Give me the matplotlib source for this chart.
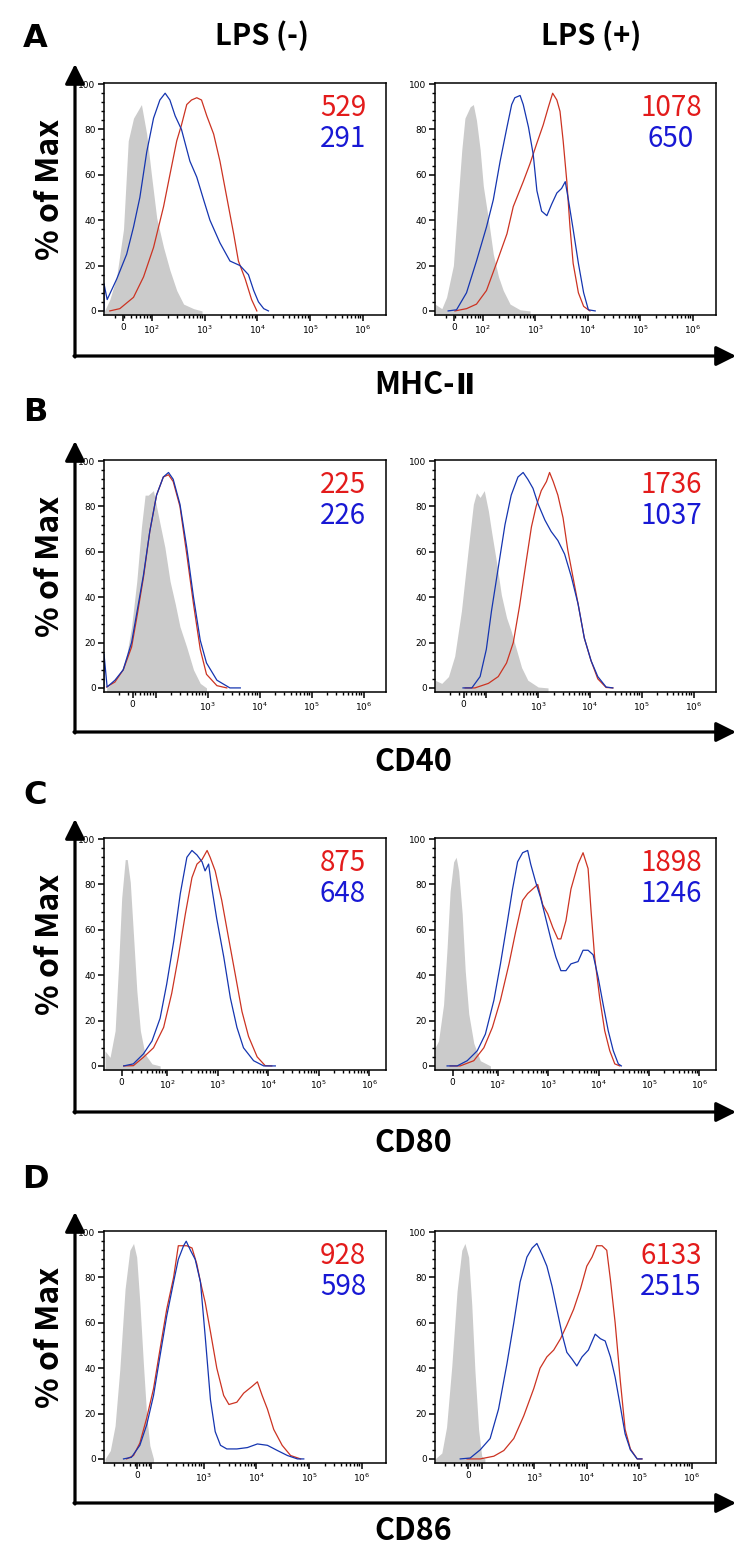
import matplotlib
matplotlib.use('Agg')
import matplotlib.pyplot as plt
from matplotlib.ticker import FixedLocator, MultipleLocator
import numpy as np

# ---- data: x in display decades (logicle axis), y in % of max ----
# row A : MHC-II
a_neg_gray_u = [1.10, 1.20, 1.33, 1.46, 1.55, 1.65, 1.80, 1.90, 1.99, 2.09, 2.22, 2.34, 2.47, 2.60, 2.79, 2.95]
a_neg_gray_y = [0, 5, 15, 36, 75, 85, 91, 78, 60, 41, 28, 18, 9, 3, 1, 0]
a_neg_red_u = [1.20, 1.39, 1.65, 1.84, 2.03, 2.22, 2.34, 2.47, 2.56, 2.66, 2.75, 2.85, 2.94, 3.04, 3.17, 3.29, 3.42, 3.55, 3.64, 3.77, 3.89, 3.99]
a_neg_red_y = [0, 1, 6, 15, 28, 46, 60, 75, 82, 91, 93, 94, 93, 86, 78, 66, 50, 34, 22, 14, 5, 0]
a_neg_blue_u = [1.09, 1.09, 1.15, 1.33, 1.52, 1.65, 1.77, 1.90, 2.03, 2.15, 2.25, 2.34, 2.44, 2.56, 2.72, 2.85, 2.98, 3.10, 3.29, 3.48, 3.67, 3.83, 3.93, 4.02, 4.12, 4.21]
a_neg_blue_y = [0, 12, 5, 14, 25, 37, 50, 70, 85, 93, 96, 93, 86, 80, 66, 59, 49, 40, 30, 22, 20, 16, 9, 4, 1, 0]

a_pos_gray_u = [1.09, 1.22, 1.31, 1.44, 1.53, 1.60, 1.66, 1.76, 1.82, 1.88, 1.95, 2.01, 2.11, 2.20, 2.30, 2.39, 2.52, 2.71, 2.90]
a_pos_gray_y = [3, 1, 6, 20, 49, 71, 85, 90, 91, 84, 71, 55, 40, 25, 15, 9, 3, 0.5, 0]
a_pos_red_u = [1.47, 1.69, 1.88, 2.07, 2.26, 2.46, 2.58, 2.77, 2.90, 3.03, 3.15, 3.25, 3.33, 3.41, 3.47, 3.53, 3.60, 3.66, 3.72, 3.82, 3.92, 4.04]
a_pos_red_y = [0, 1, 3, 9, 21, 34, 46, 57, 65, 74, 82, 90, 96, 93, 88, 75, 57, 37, 21, 8, 2, 0]
a_pos_blue_u = [1.34, 1.50, 1.69, 1.88, 2.07, 2.20, 2.33, 2.46, 2.55, 2.61, 2.71, 2.77, 2.87, 2.96, 3.03, 3.12, 3.22, 3.31, 3.41, 3.50, 3.57, 3.63, 3.72, 3.82, 3.92, 4.01, 4.14]
a_pos_blue_y = [0, 0.5, 8, 22, 37, 49, 66, 81, 91, 94, 95, 91, 81, 69, 53, 44, 42, 47, 52, 54, 57, 49, 36, 21, 8, 0.5, 0]

# row B : CD40
b_neg_gray_u = [1.06, 1.22, 1.35, 1.45, 1.54, 1.64, 1.73, 1.80, 1.86, 1.96, 2.02, 2.09, 2.18, 2.28, 2.38, 2.47, 2.60, 2.73, 2.86, 2.98]
b_neg_gray_y = [0, 3, 8, 15, 27, 47, 71, 85, 85, 87, 80, 72, 62, 47, 37, 27, 18, 8, 2, 0]
b_neg_red_u = [1.06, 1.22, 1.38, 1.54, 1.64, 1.77, 1.89, 2.02, 2.15, 2.25, 2.34, 2.47, 2.60, 2.73, 2.86, 2.98, 3.18, 3.37]
b_neg_red_y = [0.4, 2.6, 8, 18, 31, 49, 69, 85, 93, 94, 91, 80, 59, 37, 17, 6, 1, 0]
b_neg_blue_u = [1.01, 1.01, 1.07, 1.22, 1.38, 1.54, 1.64, 1.77, 1.89, 2.02, 2.15, 2.25, 2.34, 2.47, 2.60, 2.73, 2.86, 2.98, 3.18, 3.43, 3.63]
b_neg_blue_y = [0, 15, 0.4, 3.4, 8, 20, 33, 50, 69, 85, 93, 95, 92, 81, 62, 40, 21, 11, 3.4, 0, 0]

b_pos_gray_u = [1.01, 1.14, 1.27, 1.39, 1.52, 1.65, 1.75, 1.81, 1.88, 1.96, 2.04, 2.10, 2.20, 2.29, 2.39, 2.48, 2.58, 2.68, 2.80, 3.00, 3.19]
b_pos_gray_y = [3.4, 2, 5, 14, 34, 61, 81, 86, 84, 87, 78, 69, 55, 41, 31, 25, 17, 9, 3.4, 0.4, 0]
b_pos_red_u = [1.59, 1.78, 2.04, 2.23, 2.39, 2.52, 2.64, 2.77, 2.87, 2.96, 3.06, 3.16, 3.22, 3.29, 3.38, 3.48, 3.57, 3.67, 3.77, 3.89, 4.02, 4.15, 4.31, 4.44]
b_pos_red_y = [0, 0, 2, 5, 11, 20, 36, 56, 71, 80, 87, 91, 95, 91, 85, 75, 61, 49, 37, 22, 12, 4, 0.2, 0]
b_pos_blue_u = [1.55, 1.72, 1.88, 2.00, 2.10, 2.23, 2.36, 2.48, 2.61, 2.71, 2.80, 2.90, 3.00, 3.13, 3.25, 3.38, 3.51, 3.64, 3.77, 3.89, 4.02, 4.15, 4.31, 4.44]
b_pos_blue_y = [0, 0, 5, 17, 34, 53, 72, 85, 93, 95, 92, 88, 81, 74, 69, 65, 59, 49, 37, 22, 12, 5, 0.4, 0]

# row C : CD80
c_neg_gray_u = [0.77, 0.87, 0.97, 1.04, 1.10, 1.17, 1.21, 1.27, 1.33, 1.40, 1.47, 1.56, 1.70, 1.86]
c_neg_gray_y = [6.6, 3.8, 15.5, 45, 74, 91, 91, 81, 59, 33, 15.5, 5.3, 0.9, 0]
c_neg_red_u = [1.14, 1.33, 1.53, 1.73, 1.93, 2.09, 2.22, 2.36, 2.49, 2.59, 2.69, 2.79, 2.85, 2.95, 3.08, 3.21, 3.35, 3.48, 3.61, 3.78, 3.94, 4.07]
c_neg_red_y = [0, 0.1, 3.8, 8, 17, 32, 48, 67, 83, 89, 91, 95, 92, 86, 73, 57, 40, 24, 13, 4, 0.1, 0]
c_neg_blue_u = [1.14, 1.33, 1.53, 1.70, 1.86, 1.99, 2.13, 2.26, 2.39, 2.49, 2.59, 2.69, 2.75, 2.82, 2.88, 2.98, 3.12, 3.25, 3.38, 3.51, 3.71, 3.91, 4.14]
c_neg_blue_y = [0, 0.9, 5.3, 11, 21, 36, 55, 76, 92, 95, 93, 90, 86, 89, 79, 65, 48, 30, 17, 8, 2.3, 0, 0]

c_pos_gray_u = [0.75, 0.82, 0.92, 0.99, 1.05, 1.12, 1.17, 1.22, 1.29, 1.35, 1.42, 1.52, 1.65, 1.85]
c_pos_gray_y = [8, 11, 27, 52, 77, 90, 92, 86, 67, 42, 23, 10, 2.3, 0]
c_pos_red_u = [1.05, 1.25, 1.52, 1.72, 1.89, 2.05, 2.22, 2.35, 2.49, 2.59, 2.69, 2.79, 2.89, 2.99, 3.09, 3.19, 3.25, 3.35, 3.45, 3.59, 3.69, 3.79, 3.85, 3.92, 4.02, 4.12, 4.22, 4.32, 4.42]
c_pos_red_y = [0, 0, 2.3, 8, 17, 29, 45, 59, 73, 76, 78, 80, 71, 67, 61, 56, 56, 64, 78, 89, 94, 87, 68, 48, 30, 15.5, 6.7, 0.9, 0]
c_pos_blue_u = [0.99, 1.19, 1.39, 1.59, 1.75, 1.92, 2.05, 2.19, 2.29, 2.39, 2.49, 2.59, 2.65, 2.75, 2.85, 2.95, 3.05, 3.15, 3.25, 3.35, 3.45, 3.59, 3.69, 3.79, 3.89, 3.99, 4.09, 4.19, 4.29, 4.39, 4.45]
c_pos_blue_y = [0, 0, 2.3, 6.7, 14, 29, 45, 64, 78, 90, 94, 95, 89, 81, 74, 65, 56, 48, 42, 42, 45, 46, 51, 51, 49, 39, 27, 15.5, 6.7, 0.9, 0]

# row D : CD86
d_neg_gray_u = [1.13, 1.23, 1.32, 1.41, 1.51, 1.60, 1.67, 1.73, 1.79, 1.86, 1.92, 1.98, 2.05]
d_neg_gray_y = [0, 3.7, 14.6, 39.5, 75, 92, 95, 89, 69, 41, 19, 5.9, 0]
d_neg_red_u = [1.54, 1.67, 1.79, 1.92, 2.05, 2.17, 2.30, 2.43, 2.52, 2.59, 2.68, 2.78, 2.87, 2.94, 3.03, 3.13, 3.25, 3.38, 3.48, 3.63, 3.76, 3.92, 4.02, 4.11, 4.21, 4.33, 4.49, 4.65, 4.84]
d_neg_red_y = [0, 1.5, 7, 18, 31, 48, 66, 80, 94, 94, 94, 93, 86, 78, 69, 56, 40, 28, 24, 25, 29, 32, 34, 28, 22, 13, 6, 1.5, 0]
d_neg_blue_u = [1.48, 1.63, 1.79, 1.92, 2.05, 2.17, 2.30, 2.43, 2.52, 2.62, 2.67, 2.75, 2.84, 2.94, 3.03, 3.13, 3.22, 3.32, 3.44, 3.63, 3.83, 4.02, 4.21, 4.40, 4.59, 4.78, 4.90]
d_neg_blue_y = [0, 0.7, 6, 15, 28, 45, 63, 78, 88, 94, 96, 92, 88, 78, 54, 26, 12, 6, 4.4, 4.4, 5, 6.6, 6, 3.7, 1.5, 0, 0]

d_pos_gray_u = [1.11, 1.24, 1.33, 1.43, 1.53, 1.62, 1.68, 1.75, 1.81, 1.87, 1.94, 2.00, 2.06]
d_pos_gray_y = [0, 2.6, 14, 41, 74, 92, 95, 89, 68, 39, 13, 1.2, 0]
d_pos_red_u = [1.72, 1.97, 2.23, 2.42, 2.61, 2.80, 2.99, 3.11, 3.24, 3.37, 3.50, 3.62, 3.75, 3.88, 4.00, 4.10, 4.19, 4.29, 4.38, 4.45, 4.54, 4.64, 4.73, 4.83, 4.96, 5.05]
d_pos_red_y = [0, 0, 1.2, 3.7, 9, 19, 31, 40, 45, 48, 53, 59, 66, 75, 85, 89, 94, 94, 92, 79, 60, 34, 13, 4.4, 0, 0]
d_pos_blue_u = [1.59, 1.78, 1.97, 2.16, 2.32, 2.48, 2.61, 2.73, 2.86, 2.96, 3.05, 3.15, 3.24, 3.34, 3.43, 3.53, 3.62, 3.72, 3.81, 3.91, 4.03, 4.16, 4.26, 4.35, 4.45, 4.54, 4.64, 4.73, 4.83, 4.96, 5.05]
d_pos_blue_y = [0, 0.4, 4, 9, 22, 42, 60, 78, 89, 93, 95, 90, 85, 76, 66, 55, 47, 44, 41, 45, 48, 55, 53, 52, 45, 36, 23, 11, 4, 0, 0]

# numbers printed in each panel (red / blue)
mfi_red = [['529', '1078'], ['225', '1736'], ['875', '1898'], ['928', '6133']]
mfi_blue = [['291', '650'], ['226', '1037'], ['648', '1246'], ['598', '2515']]

row_letters = ['A', 'B', 'C', 'D']
markers = ['MHC-Ⅱ', 'CD40', 'CD80', 'CD86']
col_titles = ['LPS (-)', 'LPS (+)']

# logicle display per row: left, right, position of 0, labelled decades
row_xlim = [(1.09, 6.44), (1.01, 6.43), (0.75, 6.33), (1.11, 6.46)]
row_zero = [1.45, 1.56, 1.10, 1.74]
row_decades = [[2, 3, 4, 5, 6], [3, 4, 5, 6], [2, 3, 4, 5, 6], [3, 4, 5, 6]]

panels = [
    [(a_neg_gray_u, a_neg_gray_y, a_neg_red_u, a_neg_red_y, a_neg_blue_u, a_neg_blue_y),
     (a_pos_gray_u, a_pos_gray_y, a_pos_red_u, a_pos_red_y, a_pos_blue_u, a_pos_blue_y)],
    [(b_neg_gray_u, b_neg_gray_y, b_neg_red_u, b_neg_red_y, b_neg_blue_u, b_neg_blue_y),
     (b_pos_gray_u, b_pos_gray_y, b_pos_red_u, b_pos_red_y, b_pos_blue_u, b_pos_blue_y)],
    [(c_neg_gray_u, c_neg_gray_y, c_neg_red_u, c_neg_red_y, c_neg_blue_u, c_neg_blue_y),
     (c_pos_gray_u, c_pos_gray_y, c_pos_red_u, c_pos_red_y, c_pos_blue_u, c_pos_blue_y)],
    [(d_neg_gray_u, d_neg_gray_y, d_neg_red_u, d_neg_red_y, d_neg_blue_u, d_neg_blue_y),
     (d_pos_gray_u, d_pos_gray_y, d_pos_red_u, d_pos_red_y, d_pos_blue_u, d_pos_blue_y)],
]

# ---- layout (pixels) ----
W, H = 752, 1557
panel_x = [(104, 386), (435, 716)]
panel_top = [83, 460, 838, 1231]
panel_h = 232
arrow_y = [356, 732, 1112, 1503]
letter_y = [38, 412, 795, 1180]
marker_y = [385, 762, 1143, 1531]
num_cx = [343, 671]

BIG = ['Noto Sans CJK KR', 'DejaVu Sans']
RED_LINE, BLUE_LINE, GRAY = '#cc3322', '#1535b0', '#cbcbcb'
RED_TXT, BLUE_TXT = '#e31b1b', '#1818d4'

fig = plt.figure(figsize=(W / 100, H / 100), dpi=100)
ov = fig.add_axes([0, 0, 1, 1])
ov.set_xlim(0, W)
ov.set_ylim(H, 0)
ov.axis('off')
ov.set_zorder(10)

ov.text(262, 36, col_titles[0], family=BIG, weight='bold', fontsize=21, ha='center', va='center')
ov.text(591, 36, col_titles[1], family=BIG, weight='bold', fontsize=21, ha='center', va='center')

arrow_props = dict(arrowstyle='-|>,head_length=0.5,head_width=0.25', lw=2.3,
                   color='black', mutation_scale=24, shrinkA=0, shrinkB=0)

for r in range(4):
    top = panel_top[r]
    ov.annotate('', xy=(736, arrow_y[r]), xytext=(74, arrow_y[r]), arrowprops=arrow_props)
    ov.annotate('', xy=(75, top - 19), xytext=(75, arrow_y[r] + 1), arrowprops=arrow_props)
    ov.text(35, letter_y[r], row_letters[r], family='DejaVu Sans', weight='bold', fontsize=23,
            ha='center', va='center')
    ov.text(50, top + 106, '% of Max', family=BIG, weight='bold', fontsize=23,
            rotation=90, ha='center', va='center')
    if markers[r].endswith('Ⅱ'):
        # the CJK roman numeral is full width; draw it in a proportional font right after
        t = ov.text(374, marker_y[r], markers[r][:-1], family=BIG, weight='bold', fontsize=22,
                    ha='left', va='center')
        fig.canvas.draw()
        bb = t.get_window_extent()
        x_end = ov.transData.inverted().transform((bb.x1, bb.y0))[0]
        ov.text(x_end + 1, marker_y[r] + 1, markers[r][-1], family=['DejaVu Sans', 'Noto Sans CJK KR'],
                weight='bold', fontsize=21, ha='left', va='center')
    else:
        ov.text(374, marker_y[r], markers[r], family=BIG, weight='bold', fontsize=22,
                ha='left', va='center')

    xl, xr = row_xlim[r]
    majors = [row_zero[r]] + [d for d in range(2, 7)]
    labels = ['0' if m == row_zero[r] else (r'$10^{%d}$' % m if m in row_decades[r] else '')
              for m in majors]
    minors = [k + np.log10(m) for k in range(1, 6) for m in range(2, 10)
              if xl < k + np.log10(m) < xr]

    for c in range(2):
        gu, gy, ru, ry, bu, by = panels[r][c]
        x0, x1 = panel_x[c]
        ax = fig.add_axes([x0 / W, 1 - (top + panel_h) / H, (x1 - x0) / W, panel_h / H])
        ax.fill_between(gu, gy, -2, color=GRAY, lw=0)
        ax.plot(ru, ry, color=RED_LINE, lw=0.9)
        ax.plot(bu, by, color=BLUE_LINE, lw=0.9)
        ax.set_xlim(xl, xr)
        ax.set_ylim(-1.8, 100.5)
        ax.set_xticks(majors)
        ax.set_xticklabels(labels)
        ax.xaxis.set_minor_locator(FixedLocator(minors))
        ax.set_yticks([0, 20, 40, 60, 80, 100])
        ax.yaxis.set_minor_locator(MultipleLocator(4))
        ax.tick_params(which='major', direction='out', length=4.5, width=1.1, pad=1.5,
                       labelsize=6.5)
        ax.tick_params(which='minor', direction='out', length=2.2, width=1.0)
        for s in ax.spines.values():
            s.set_linewidth(1.1)
        ov.text(num_cx[c], top + 25, mfi_red[r][c], color=RED_TXT, family=BIG,
                weight='medium', fontsize=20, ha='center', va='center')
        ov.text(num_cx[c], top + 56, mfi_blue[r][c], color=BLUE_TXT, family=BIG,
                weight='medium', fontsize=20, ha='center', va='center')

fig.savefig('out.png', dpi=100)
